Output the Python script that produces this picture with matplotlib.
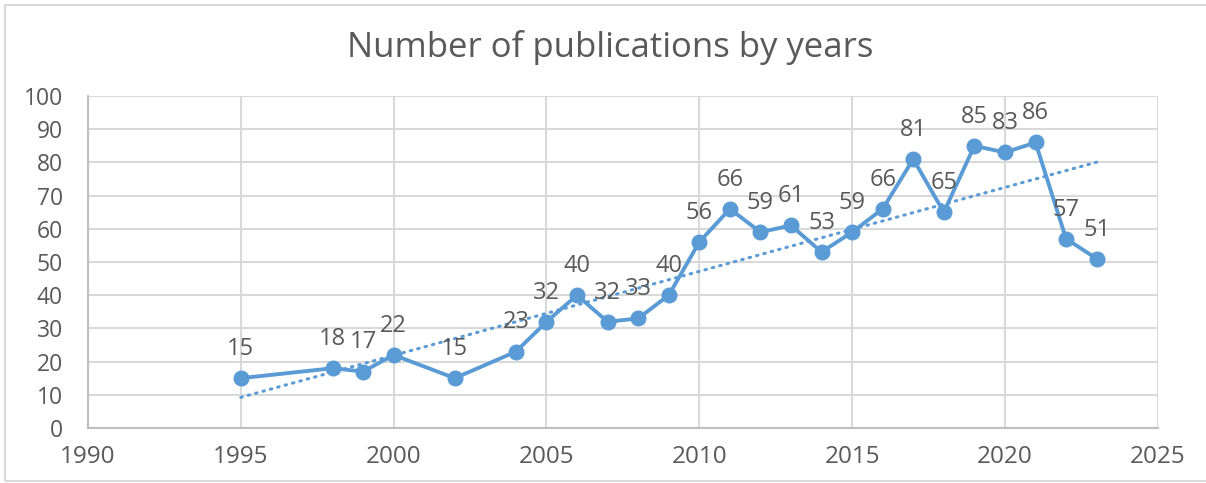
import numpy as np
import matplotlib.pyplot as plt
from matplotlib.patches import Rectangle

# data
years = [1995, 1998, 1999, 2000, 2002, 2004, 2005, 2006, 2007, 2008, 2009, 2010,
         2011, 2012, 2013, 2014, 2015, 2016, 2017, 2018, 2019, 2020, 2021, 2022, 2023]
counts = [15, 18, 17, 22, 15, 23, 32, 40, 32, 33, 40, 56,
          66, 59, 61, 53, 59, 66, 81, 65, 85, 83, 86, 57, 51]
x_ticks = [1990, 1995, 2000, 2005, 2010, 2015, 2020, 2025]
y_ticks = list(range(0, 101, 10))

BLUE = "#5B9BD5"
TEXT = "#595959"
GRID = "#D9D9D9"

plt.rcParams['font.family'] = ['Open Sans', 'DejaVu Sans']

fig = plt.figure(figsize=(12.06, 4.83), dpi=100)
ax = fig.add_axes([0.073, 0.1139, 0.887, 0.6873])

# outer chart border
fig.patches.append(Rectangle((5 / 1206, 2 / 483), 1.0, 476 / 483, transform=fig.transFigure,
                             fill=False, edgecolor=GRID, lw=1.5))

ax.plot(years, counts, color=BLUE, lw=2.8, marker='o', ms=10.5, zorder=3)

# linear trend line
k, b = np.polyfit(years, counts, 1)
tx = np.array([years[0], years[-1]])
ax.plot(tx, k * tx + b, color=BLUE, lw=2.2, ls=(0, (0.5, 2.0)),
        dash_capstyle='round', zorder=2)

for xv, yv in zip(years, counts):
    ax.annotate(str(yv), (xv, yv), xytext=(0, 21), textcoords='offset points',
                ha='center', va='center', fontsize=17, color=TEXT)

ax.set_xlim(1990, 2025)
ax.set_ylim(0, 100)
ax.set_xticks(x_ticks)
ax.set_yticks(y_ticks)
ax.grid(True, color=GRID, lw=1.5)
ax.set_axisbelow(True)
for s in ['top', 'right']:
    ax.spines[s].set_visible(False)
for s in ['left', 'bottom']:
    ax.spines[s].set_color('#BFBFBF')
    ax.spines[s].set_linewidth(1.5)
ax.tick_params(length=0, colors=TEXT)
ax.tick_params(axis='y', labelsize=16.5, pad=18)
ax.tick_params(axis='x', labelsize=17.5, pad=12.5)

fig.text(0.506, 0.882, "Number of publications by years", ha='center', va='baseline',
         fontsize=25, color=TEXT)

fig.savefig("out.png", dpi=100)
